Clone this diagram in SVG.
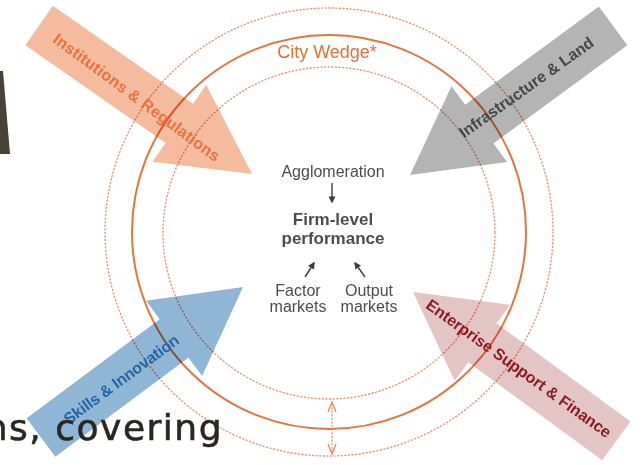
<svg xmlns="http://www.w3.org/2000/svg" width="641" height="465" viewBox="0 0 641 465">
  <style>
    .ring-solid { fill: none; stroke: #e5753f; stroke-width: 2; }
    .ring-dot { fill: none; stroke: #ec9170; stroke-width: 1.4; stroke-dasharray: 1 2.6; stroke-linecap: round; }
    .big-arrow { mix-blend-mode: multiply; }
    .lbl { font-family: "Liberation Sans", Arial, sans-serif; font-size: 16px; font-weight: bold; text-anchor: middle; }
    .ctr { font-family: "Liberation Sans", Arial, sans-serif; text-anchor: middle; fill: #4d4d4d; }
    .flow { stroke: #3d3d3d; stroke-width: 1.4; fill: none; }
  </style>
  <defs>
    <marker id="head" viewBox="0 0 10 10" refX="8" refY="5" markerWidth="7" markerHeight="7" markerUnits="userSpaceOnUse" orient="auto">
      <path d="M0,0 L10,5 L0,10 z" fill="#3d3d3d"/>
    </marker>
    <!-- block arrow, tip at origin pointing along +x -->
    <polygon id="block" points="0,0 -86,-47 -86,-24 -252,-24 -252,24 -86,24 -86,47"/>
  </defs>

  <rect width="641" height="465" fill="#ffffff"/>

  <!-- slide fragment at left edge -->
  <polygon points="0,71 3,71 10,154 0,154" fill="#4a4236"/>

  <!-- city wedge rings -->
  <g id="rings">
    <circle class="ring-dot" cx="329" cy="232" r="224"/>
    <circle class="ring-solid" cx="329" cy="232" r="197"/>
    <circle class="ring-dot" cx="329" cy="233" r="166"/>
  </g>

  <!-- pillar arrows -->
  <g id="institutions" class="big-arrow">
    <use href="#block" transform="translate(252,174) rotate(34.9) scale(1.03,1)" fill="#f4bb9e"/>
  </g>
  <g id="infrastructure" class="big-arrow">
    <use href="#block" transform="translate(410,175) rotate(143.7)" fill="#b4b4b4"/>
  </g>
  <g id="skills" class="big-arrow">
    <use href="#block" transform="translate(243,287) rotate(-36.7)" fill="#90b6d5"/>
  </g>
  <g id="enterprise" class="big-arrow">
    <use href="#block" transform="translate(413,292) rotate(216.2)" fill="#e4c5c5"/>
  </g>

  <!-- pillar labels -->
  <g id="pillar-labels">
    <text class="lbl" transform="translate(137,97) rotate(36.5)" y="6" fill="#e8733d" textLength="203">Institutions &amp; Regulations</text>
    <text class="lbl" transform="translate(526,87) rotate(-35.5)" y="6" fill="#474747" textLength="161">Infrastructure &amp; Land</text>
    <text class="lbl" transform="translate(121,379) rotate(-36.5)" y="6" fill="#2466a6" textLength="139">Skills &amp; Innovation</text>
    <text class="lbl" transform="translate(519,368) rotate(35.8)" y="6" fill="#8c1c22" textLength="224">Enterprise Support &amp; Finance</text>
  </g>

  <!-- wedge title -->
  <g id="city-wedge">
    <text x="327" y="58" font-family="Liberation Sans, Arial, sans-serif" font-size="18" fill="#e5703a" text-anchor="middle">City Wedge*</text>
  </g>

  <!-- core -->
  <g id="agglomeration">
    <text class="ctr" x="333" y="177" font-size="16">Agglomeration</text>
  </g>
  <g id="firm-performance">
    <text class="ctr" x="333" y="225" font-size="17" font-weight="bold" fill="#1e1e1e">Firm-level</text>
    <text class="ctr" x="333" y="244" font-size="17" font-weight="bold" fill="#1e1e1e">performance</text>
  </g>
  <g id="factor-markets">
    <text class="ctr" x="298" y="296" font-size="16">Factor</text>
    <text class="ctr" x="298" y="312" font-size="16">markets</text>
  </g>
  <g id="output-markets">
    <text class="ctr" x="369" y="296" font-size="16">Output</text>
    <text class="ctr" x="369" y="312" font-size="16">markets</text>
  </g>

  <!-- connectors -->
  <g id="connectors">
    <line class="flow" x1="332" y1="183" x2="332" y2="202" marker-end="url(#head)"/>
    <line class="flow" x1="305" y1="277" x2="314" y2="263" marker-end="url(#head)"/>
    <line class="flow" x1="365" y1="277" x2="355" y2="263" marker-end="url(#head)"/>
    <line class="ring-dot" x1="332" y1="404" x2="332" y2="452"/>
    <polyline points="328,412 332,402 336,412" fill="none" stroke="#ec8a66" stroke-width="1.4"/>
    <polyline points="328,444 332,454 336,444" fill="none" stroke="#ec8a66" stroke-width="1.4"/>
  </g>

  <!-- slide body text at bottom -->
  <text x="223" y="440" text-anchor="end" font-family="DejaVu Sans, sans-serif" font-size="36" letter-spacing="1.5" stroke="#2a2620" stroke-width="0.6" fill="#2a2620">ns, covering</text>
</svg>
